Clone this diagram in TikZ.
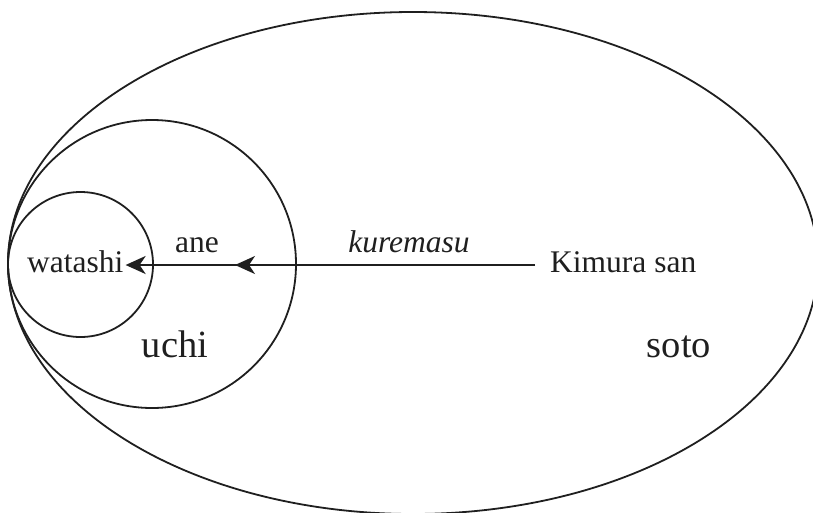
\documentclass[tikz,border=0pt]{standalone}
\usepackage{fontspec}
\setmainfont{Liberation Serif}
\usetikzlibrary{arrows.meta,decorations.markings}
\begin{document}
\begin{tikzpicture}[x=1pt,y=-1pt,
  ring/.style={draw=black!88,line width=1.8pt},
  lbl/.style={inner sep=0pt,text=black!88,font=\fontsize{31.5}{36}\selectfont},
  big/.style={inner sep=0pt,text=black!88,font=\fontsize{38.5}{44}\selectfont},
  flow/.style={draw=black!88,line width=2.2pt,-{Stealth[length=20pt,width=18pt,inset=6pt]},
    postaction={decorate},
    decoration={markings,mark=at position 300pt with {\arrow{Stealth[length=20pt,width=18pt,inset=6pt]}}}}]
\useasboundingbox (0,0) rectangle (813,512);
\begin{scope}
\clip (0,0) rectangle (813,512);
\draw[ring] (413,263) ellipse [x radius=405, y radius=251];
\end{scope}
\draw[ring] (152,264) circle [radius=144];
\draw[ring] (80.5,264.5) circle [radius=72.5];
\node[lbl,anchor=base west,inner xsep=2pt] (watashi) at (25,272) {watashi};
\node[lbl,anchor=base] (ane) at (197,252) {ane};
\node[lbl,anchor=base] (kure) at (409,252) {\itshape kuremasu};
\node[lbl,anchor=base west,inner xsep=15pt] (kimura) at (535,272) {Kimura san};
\node[big,anchor=base] (uchi) at (175,357) {uchi};
\node[big,anchor=base] (soto) at (679,357) {soto};
\coordinate (ly) at (0,265);
\draw[flow] (kimura.west |- ly) -- (watashi.east |- ly);
\end{tikzpicture}
\end{document}
